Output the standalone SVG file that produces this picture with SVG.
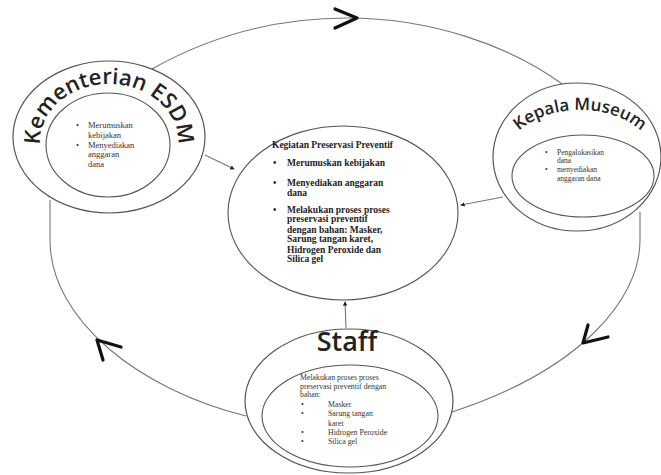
<svg xmlns="http://www.w3.org/2000/svg" width="661" height="475" viewBox="0 0 661 475">
<style>
.ring{fill:#fff;stroke:#555;stroke-width:1.2}
.inner{fill:#fff;stroke:#555;stroke-width:1.1}
.conn{fill:none;stroke:#777;stroke-width:1.1}
.chev{fill:none;stroke:#111;stroke-width:3.2;stroke-linecap:round;stroke-linejoin:round}
.title{font-family:"Open Sans","Noto Sans",sans-serif;fill:#222;font-weight:600}
.small{font-family:"Liberation Serif",serif;fill:#333}
.bold{font-family:"Liberation Serif",serif;font-weight:bold;fill:#222;font-size:9.5px}
</style>
<defs>
<marker id="dot" viewBox="0 0 6 6" refX="5" refY="3" markerWidth="4" markerHeight="4" orient="auto">
<path d="M0,0 L6,3 L0,6 Z" fill="#222"/>
</marker>
<path id="arcK" d="M 40,142 A 69,58 0 0 1 178,142"/>
<path id="arcM" d="M 505,160 A 75,50 0 0 1 655,160"/>
</defs>
<g id="connectors">
<path class="conn" d="M 152,69 C 230,25 300,18 347,18 C 430,18 510,45 565,86"/>
<path class="conn" d="M 640,212 L 640,240 C 640,300 580,370 452,412"/>
<path class="conn" d="M 246,416 C 140,390 50,320 50,240 L 50,200"/>
<path class="chev" d="M 335,9 L 357,18 L 335,28"/>
<path class="chev" d="M 588,325 L 583,343 L 608,337"/>
<path class="chev" d="M 121,347 L 97,340 L 103,360"/>
<line class="conn" x1="205" y1="155" x2="234" y2="169" marker-end="url(#dot)"/>
<line class="conn" x1="503" y1="197" x2="461" y2="205" marker-end="url(#dot)"/>
<line class="conn" x1="346" y1="328" x2="345" y2="302" marker-end="url(#dot)"/>
</g>
<g id="kementerian">
<ellipse class="ring" cx="109" cy="137" rx="96" ry="76"/>
<ellipse class="inner" cx="108" cy="145" rx="62" ry="52"/>
<text class="title" font-size="22"><textPath href="#arcK" startOffset="50%" text-anchor="middle">Kementerian ESDM</textPath></text>
<g class="small" font-size="8.5">
<text x="76" y="128">•</text>
<text x="88" y="128">Merumuskan</text>
<text x="88" y="138">kebijakan</text>
<text x="76" y="148">•</text>
<text x="88" y="148">Menyediakan</text>
<text x="88" y="157">anggaran</text>
<text x="88" y="167">dana</text>
</g>
</g>
<g id="kepala-museum">
<ellipse class="ring" cx="577" cy="157" rx="84" ry="74"/>
<ellipse class="inner" cx="583" cy="176" rx="71" ry="41"/>
<text class="title" font-size="17"><textPath href="#arcM" startOffset="50%" text-anchor="middle">Kepala Museum</textPath></text>
<g class="small" font-size="7.5">
<text x="545" y="155">•</text>
<text x="557" y="155">Pengalokasikan</text>
<text x="557" y="163">dana</text>
<text x="545" y="172">•</text>
<text x="557" y="172">menyediakan</text>
<text x="557" y="181">anggaran dana</text>
</g>
</g>
<g id="kegiatan">
<ellipse class="inner" cx="343" cy="213" rx="115" ry="87"/>
<text class="bold" x="272" y="148">Kegiatan Preservasi Preventif</text>
<text class="bold" x="273" y="166">•</text>
<text class="bold" x="287" y="166">Merumuskan kebijakan</text>
<text class="bold" x="273" y="186">•</text>
<text class="bold" x="287" y="186">Menyediakan anggaran</text>
<text class="bold" x="287" y="196">dana</text>
<text class="bold" x="273" y="213">•</text>
<text class="bold" x="287" y="213">Melakukan proses proses</text>
<text class="bold" x="287" y="222">preservasi preventif</text>
<text class="bold" x="287" y="233">dengan bahan: Masker,</text>
<text class="bold" x="287" y="242">Sarung tangan karet,</text>
<text class="bold" x="287" y="253">Hidrogen Peroxide dan</text>
<text class="bold" x="287" y="262">Silica gel</text>
</g>
<g id="staff">
<ellipse class="ring" cx="349" cy="401" rx="104" ry="72"/>
<ellipse class="inner" cx="350" cy="416" rx="88" ry="51"/>
<text class="title" x="347" y="351" font-size="27" text-anchor="middle">Staff</text>
<g class="small" font-size="7.8">
<text x="300" y="380">Melakukan proses proses</text>
<text x="300" y="389">preservasi preventif dengan</text>
<text x="300" y="397">bahan:</text>
<text x="301" y="407">•</text>
<text x="328" y="407">Masker</text>
<text x="301" y="416">•</text>
<text x="328" y="416">Sarung tangan</text>
<text x="328" y="426">karet</text>
<text x="301" y="435">•</text>
<text x="328" y="435">Hidrogen Peroxide</text>
<text x="301" y="444">•</text>
<text x="328" y="444">Silica gel</text>
</g>
</g>
</svg>
